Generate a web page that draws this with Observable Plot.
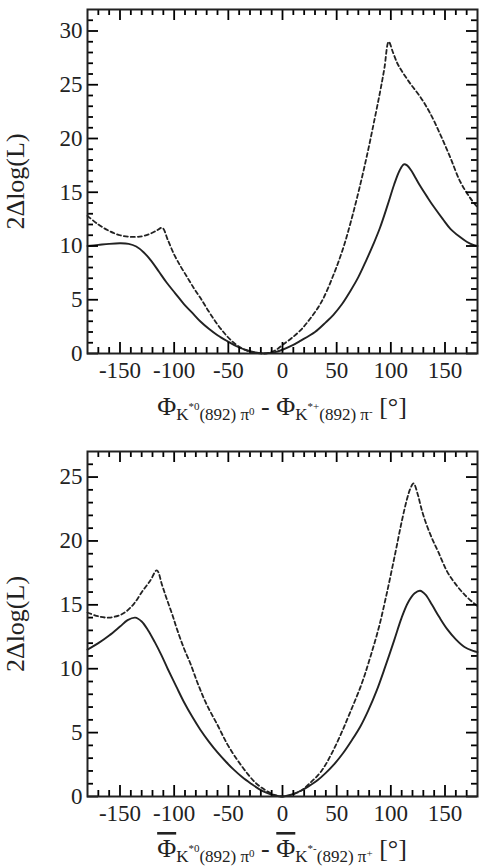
<!DOCTYPE html>
<html>
<head>
<meta charset="utf-8">
<script src="https://cdn.jsdelivr.net/npm/d3@7"></script>
<script src="https://cdn.jsdelivr.net/npm/@observablehq/plot@0.6"></script>
<style>
  body { margin: 0; background: #fff; }
  #charts svg { display: block; }
</style>
</head>
<body>
<div id="charts"></div>
<script>
// Phase difference scan (degrees) and likelihood profiles, 2Δlog(L)
// Upper panel: Φ(K*0 π0) − Φ(K*+ π−)
const topSolidX = [-180, -170, -160, -150, -142, -135, -128, -121, -114, -107, -99, -91, -83, -76, -68, -60, -51, -42, -33, -25, -17, -8, 0, 8, 16, 30, 40, 47, 55, 62, 70, 77, 84, 90, 97, 103, 108, 112, 115, 119, 123, 127, 134, 140, 148, 155, 163, 170, 176, 180];
const topSolidY = [10.0, 10.1, 10.2, 10.25, 10.2, 9.95, 9.4, 8.6, 7.6, 6.6, 5.6, 4.6, 3.75, 3.0, 2.3, 1.7, 1.15, 0.65, 0.3, 0.1, 0.0, 0.1, 0.35, 0.7, 1.15, 2.0, 2.9, 3.6, 4.6, 5.7, 7.1, 8.6, 10.2, 11.7, 13.8, 15.7, 17.0, 17.6, 17.5, 17.0, 16.3, 15.6, 14.5, 13.6, 12.5, 11.6, 10.9, 10.4, 10.1, 10.0];
const topDashedX = [-180, -170, -160, -150, -140, -130, -122, -116, -111, -106, -100, -94, -88, -82, -76, -68, -60, -52, -45, -38, -31, -24, -17, -10, -5, 0, 8, 17, 26, 36, 47, 56, 64, 72, 79, 85, 90, 94, 98, 102, 106, 110, 118, 127, 136, 146, 155, 164, 173, 180];
const topDashedY = [12.8, 12.0, 11.4, 11.0, 10.85, 10.9, 11.15, 11.45, 11.7, 10.6, 9.2, 8.1, 7.1, 6.1, 5.2, 3.9, 2.7, 1.7, 1.0, 0.5, 0.2, 0.05, 0.0, 0.15, 0.4, 0.8, 1.4, 2.2, 3.3, 4.8, 7.3, 9.8, 12.6, 15.8, 18.9, 21.8, 24.3, 26.5, 29.0, 28.0, 27.0, 26.3, 25.1, 23.9, 22.4, 20.3, 18.2, 16.0, 14.5, 13.6];

// Lower panel: Φ̄(K*0 π0) − Φ̄(K*− π+)
const botSolidX = [-180, -170, -160, -150, -143, -136, -130, -124, -118, -112, -106, -98, -91, -83, -76, -68, -60, -52, -45, -37, -29, -22, -15, -7, 0, 8, 17, 25, 32, 40, 48, 56, 64, 72, 79, 87, 95, 103, 110, 116, 122, 127, 132, 138, 145, 152, 160, 168, 176, 180];
const botSolidY = [11.5, 12.0, 12.6, 13.3, 13.8, 14.0, 13.7, 13.0, 12.1, 11.1, 10.0, 8.6, 7.4, 6.2, 5.25, 4.3, 3.45, 2.7, 2.1, 1.5, 1.0, 0.6, 0.3, 0.08, 0.0, 0.15, 0.45, 0.85, 1.25, 1.85, 2.55, 3.4, 4.4, 5.5, 6.7, 8.3, 10.2, 12.2, 14.0, 15.2, 15.9, 16.1, 15.8, 15.0, 14.0, 13.1, 12.3, 11.7, 11.4, 11.3];
const botDashedX = [-180, -170, -160, -150, -144, -137, -129, -122, -116, -111, -107, -102, -97, -91, -85, -78, -70, -60, -51, -42, -32, -24, -15, -7, 0, 8, 17, 26, 36, 45, 54, 63, 73, 81, 89, 96, 104, 110, 115, 118, 121, 125, 128, 132, 138, 144, 152, 160, 168, 177, 180];
const botDashedY = [14.4, 14.1, 14.0, 14.2, 14.5, 15.1, 16.1, 16.9, 17.7, 16.5, 15.5, 14.3, 13.0, 11.6, 10.4, 8.8, 7.2, 5.6, 4.1, 2.9, 1.75, 1.0, 0.45, 0.1, 0.0, 0.12, 0.45, 1.1, 2.0, 3.3, 4.9, 6.7, 8.8, 10.9, 13.25, 15.8, 19.0, 21.5, 23.3, 24.1, 24.5, 23.6, 22.6, 21.5, 20.2, 19.1, 17.6, 16.6, 15.8, 15.1, 14.9];

// Tick values
const xMajorTicks = [-150, -100, -50, 0, 50, 100, 150];
const xMinorTicks = [-170, -160, -140, -130, -120, -110, -90, -80, -70, -60, -40, -30, -20, -10, 10, 20, 30, 40, 60, 70, 80, 90, 110, 120, 130, 140, 160, 170];
const topYMajorTicks = [0, 5, 10, 15, 20, 25, 30];
const botYMajorTicks = [0, 5, 10, 15, 20, 25];
const yLabel = "2Δlog(L)";

// Axis-title pieces: [text, level]; level sets size and baseline offset
const topXLabel = [["Φ", "main"], ["K", "sub"], ["*0", "sup"], ["(892) π", "sub"], ["0", "sup2"], [" - ", "main"],
                   ["Φ", "main"], ["K", "sub"], ["*+", "sup"], ["(892) π", "sub"], ["-", "sup2"], [" [°]", "main"]];
const botXLabel = [["Φ", "bar"], ["K", "sub"], ["*0", "sup"], ["(892) π", "sub"], ["0", "sup2"], [" - ", "main"],
                   ["Φ", "bar"], ["K", "sub"], ["*-", "sup"], ["(892) π", "sub"], ["+", "sup2"], [" [°]", "main"]];

const W = 481, H = 434, ML = 87, MR = 4;
const XMIN = -180, XMAX = 180;
const ink = "#222";
const serif = "Liberation Serif, Times New Roman, Times, serif";

function rangeInt(a, b) { const r = []; for (let v = a; v <= b; v++) r.push(v); return r; }

function panel({solid, dashed, yMax, yMajor, marginTop, marginBottom, xLabel, labelGap}) {
  const fh = H - marginTop - marginBottom;   // frame height (px)
  const fw = W - ML - MR;                    // frame width (px)
  // pixel lengths converted to data units
  const ly = px => px * yMax / fh;
  const lx = px => px * (XMAX - XMIN) / fw;
  const yMinor = rangeInt(1, yMax - 1).filter(v => v % 5 !== 0);
  const solidData = solid[0].map((x, i) => ({x, y: solid[1][i]}));
  const dashedData = dashed[0].map((x, i) => ({x, y: dashed[1][i]}));

  // inward tick segments on the bottom/top edges (vertical) and left/right edges (horizontal)
  const vTicks = [], hTicks = [];
  for (const [vals, len] of [[xMajorTicks, 11], [xMinorTicks, 6]]) {
    for (const v of vals) {
      vTicks.push({x: v, y1: 0, y2: ly(len)});
      vTicks.push({x: v, y1: yMax - ly(len), y2: yMax});
    }
  }
  for (const [vals, len] of [[yMajor, 11], [yMinor, 6]]) {
    for (const v of vals) {
      hTicks.push({y: v, x1: XMIN, x2: XMIN + lx(len)});
      hTicks.push({y: v, x1: XMAX - lx(len), x2: XMAX});
    }
  }

  const fmt = d => String(d);
  const svg = Plot.plot({
    width: W, height: H,
    marginLeft: ML, marginRight: MR, marginTop, marginBottom,
    style: {fontFamily: serif, fontSize: "23px", color: ink, background: "#fff"},
    x: {domain: [XMIN, XMAX]},
    y: {domain: [0, yMax]},
    marks: [
      Plot.line(dashedData, {x: "x", y: "y", curve: "catmull-rom", stroke: ink, strokeWidth: 1.8, strokeDasharray: "4,3"}),
      Plot.line(solidData, {x: "x", y: "y", curve: "catmull-rom", stroke: ink, strokeWidth: 1.9}),
      Plot.ruleX(vTicks, {x: "x", y1: "y1", y2: "y2", stroke: "#000", strokeWidth: 1.8}),
      Plot.ruleY(hTicks, {y: "y", x1: "x1", x2: "x2", stroke: "#000", strokeWidth: 1.8}),
      Plot.axisX(xMajorTicks, {anchor: "bottom", tickSize: 0, tickPadding: 8, tickFormat: fmt, label: null, fill: ink}),
      Plot.axisY(yMajor, {anchor: "left", tickSize: 0, tickPadding: 5, tickFormat: fmt, label: null, fill: ink}),
      Plot.frame({stroke: ink, strokeWidth: 2, fill: "none"}),
      Plot.text([yLabel], {frameAnchor: "left", dx: -72, rotate: -90, fontSize: 26, textAnchor: "middle", lineAnchor: "middle", fill: ink})
    ]
  });

  // x-axis title with sub- and superscripts
  const sizes = {main: 26, bar: 26, sub: 17, sup: 11, sup2: 11};
  const shift = {main: 0, bar: 0, sub: 5, sup: -5, sup2: 0};
  const cx = ML + fw / 2;
  const t = d3.select(svg).append("text")
    .attr("x", cx).attr("y", H - marginBottom + labelGap)
    .attr("text-anchor", "middle")
    .attr("font-family", serif)
    .attr("fill", ink);
  let cur = 0;
  for (const [s, lvl] of xLabel) {
    const ts = t.append("tspan")
      .attr("font-size", sizes[lvl])
      .attr("dy", shift[lvl] - cur)
      .text(s);
    if (lvl === "bar") ts.attr("text-decoration", "overline");
    cur = shift[lvl];
  }
  return svg;
}

const host = document.getElementById("charts");
host.append(panel({
  solid: [topSolidX, topSolidY], dashed: [topDashedX, topDashedY],
  yMax: 32, yMajor: topYMajorTicks, marginTop: 9, marginBottom: 81,
  xLabel: topXLabel, labelGap: 62
}));
host.append(panel({
  solid: [botSolidX, botSolidY], dashed: [botDashedX, botDashedY],
  yMax: 27, yMajor: botYMajorTicks, marginTop: 17, marginBottom: 72,
  xLabel: botXLabel, labelGap: 61
}));
</script>
</body>
</html>
